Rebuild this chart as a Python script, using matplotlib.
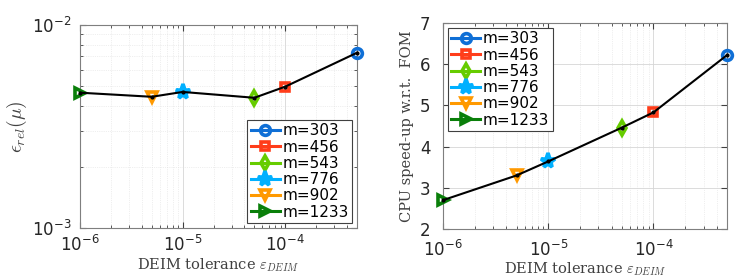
import math
import matplotlib
matplotlib.use("Agg")
import matplotlib.pyplot as plt
from matplotlib.ticker import FuncFormatter, LogLocator, NullFormatter

plt.rcParams['mathtext.fontset'] = 'cm'
plt.rcParams['font.family'] = 'DejaVu Sans'

# data
labels = ['m=303', 'm=456', 'm=543', 'm=776', 'm=902', 'm=1233']
tol = [5e-4, 1e-4, 5e-5, 1e-5, 5e-6, 1e-6]
err_rel = [7.3e-3, 4.97e-3, 4.38e-3, 4.68e-3, 4.43e-3, 4.64e-3]
speedup = [6.22, 4.83, 4.46, 3.64, 3.30, 2.70]

colors = ['#0f6fd6', '#ff3d1a', '#66cc00', '#00b0ff', '#ff9900', '#0a7f0a']
markers = ['o', 's', 'd', '*', 'v', '>']
msizes = [7, 6, 7, 11, 7.5, 7.5]
faces = ['none', 'none', 'none', None, 'none', 'none']

fig = plt.figure(figsize=(7.5, 2.78), dpi=100)
ax1 = fig.add_axes([80 / 750, 1 - 228 / 278, 277 / 750, 203 / 278])
ax2 = fig.add_axes([443 / 750, 1 - 229 / 278, 284 / 750, 206 / 278])

serif = {'family': 'DejaVu Serif', 'size': 10.5, 'color': '#404040'}


def sci(v, pos):
    e = int(round(math.log10(v)))
    return r'$\mathregular{10^{%d}}$' % e


def style(ax):
    ax.set_xscale('log')
    ax.set_xlim(1e-6, 5e-4)
    ax.xaxis.set_major_locator(LogLocator(base=10, numticks=10))
    ax.xaxis.set_major_formatter(FuncFormatter(sci))
    ax.xaxis.set_minor_formatter(NullFormatter())
    ax.grid(True, which='major', color='#d6d6d6', linewidth=0.6)
    ax.grid(True, which='minor', axis='x', color='#e0e0e0', linewidth=0.5, linestyle=':')
    ax.tick_params(which='both', direction='in', top=True, right=True,
                   colors='#404040', labelsize=12, labelcolor='#262626')
    ax.tick_params(which='major', length=4)
    ax.tick_params(which='minor', length=2)
    ax.tick_params(axis='x', pad=5)
    ax.tick_params(axis='y', pad=6)
    for s in ax.spines.values():
        s.set_color('#7f7f7f')
        s.set_linewidth(0.8)
    ax.set_xlabel(r'DEIM tolerance $\varepsilon_{DEIM}$', fontdict=serif, labelpad=1)


for ax, vals in [(ax1, err_rel), (ax2, speedup)]:
    for x, y, c, m, ms, fc, lab in zip(tol, vals, colors, markers, msizes, faces, labels):
        ax.plot([x], [y], color=c, marker=m, markersize=ms,
                markerfacecolor=fc if fc else c,
                markeredgewidth=2.6, linewidth=2.2, label=lab, clip_on=False, zorder=3)
    ax.plot(tol, vals, color='black', linewidth=1.5, marker='.', markersize=4,
            clip_on=False, zorder=4)
    style(ax)

ax1.set_yscale('log')
ax1.set_ylim(1e-3, 1e-2)
ax1.yaxis.set_major_formatter(FuncFormatter(sci))
ax1.yaxis.set_minor_formatter(NullFormatter())
ax1.grid(True, which='minor', axis='y', color='#e0e0e0', linewidth=0.5, linestyle=':')
ax1.set_ylabel(r'$\epsilon_{rel}(\mu)$', fontsize=14, color='#404040', labelpad=2)

ax2.set_ylim(2, 7)
ax2.set_yticks([2, 3, 4, 5, 6, 7])
ax2.tick_params(axis='y', pad=9)
ax2.tick_params(axis='x', pad=8)
ax2.xaxis.labelpad = 0
ax2.set_ylabel('CPU speed-up w.r.t.  FOM', fontdict=serif, labelpad=4)

leg_kw = dict(fontsize=11, handlelength=1.9, handletextpad=0.15, borderpad=0.25,
              labelspacing=0.08, borderaxespad=0.3, fancybox=False, framealpha=1,
              edgecolor='#404040')
l1 = ax1.legend(loc='lower right', **leg_kw)
l2 = ax2.legend(loc='upper left', **leg_kw)
for l in (l1, l2):
    l.get_frame().set_linewidth(0.8)

fig.savefig('out.png', dpi=100)
